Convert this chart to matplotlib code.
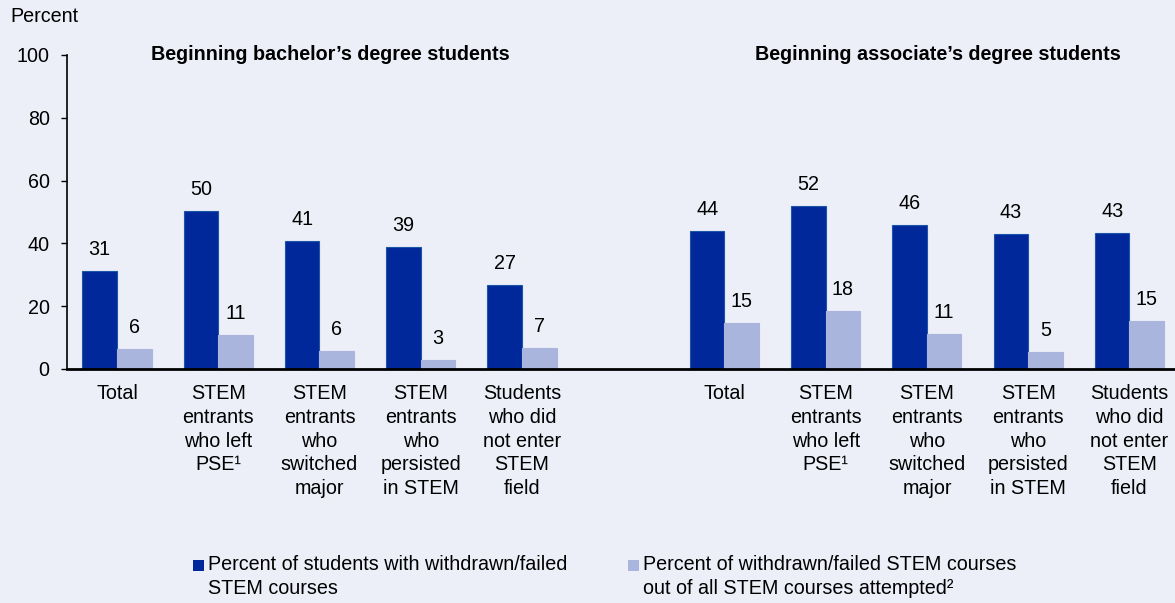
import numpy as np
import matplotlib
matplotlib.use("Agg")
import matplotlib.pyplot as plt
from matplotlib.patches import Rectangle

plt.rcParams['font.family'] = ['Liberation Sans', 'DejaVu Sans']

# ---------
# DATA
# ---------
categories = ["Total",
              "STEM\nentrants\nwho left\nPSE\u00b9",
              "STEM\nentrants\nwho\nswitched\nmajor",
              "STEM\nentrants\nwho\npersisted\nin STEM",
              "Students\nwho did\nnot enter\nSTEM\nfield"]
groups = ["Beginning bachelor\u2019s degree students",
          "Beginning associate\u2019s degree students"]

# percent of students with withdrawn/failed STEM courses
bach_students = [31.2, 50.4, 40.8, 38.9, 26.8]
assoc_students = [44.0, 52.0, 46.0, 42.9, 43.3]
# percent of withdrawn/failed STEM courses out of all attempted
bach_courses = [6.4, 10.8, 5.6, 2.8, 6.8]
assoc_courses = [14.6, 18.4, 11.1, 5.4, 15.3]

legend_labels = ["Percent of students with withdrawn/failed\nSTEM courses",
                 "Percent of withdrawn/failed STEM courses\nout of all STEM courses attempted\u00b2"]

dark = "#00289a"
light = "#a9b5dd"
bg = "#eceff8"
fs = 14.2
ls = 1.31

fig = plt.figure(figsize=(11.75, 6.03), dpi=100, facecolor=bg)
ax = fig.add_axes([67 / 1175, (603 - 369) / 603, 1 - 67 / 1175, (369 - 55) / 603])
ax.set_facecolor(bg)

x = np.concatenate([np.arange(5), np.arange(5) + 6])
students = bach_students + assoc_students
courses = bach_courses + assoc_courses
w = 0.341

b1 = ax.bar(x - w / 2, students, w, color=dark, edgecolor="#1c55a8", linewidth=0.8)
b2 = ax.bar(x + w / 2, courses, w, color=light, edgecolor=light, linewidth=0.8)

for bars, vals in [(b1, students), (b2, courses)]:
    for r, v in zip(bars, vals):
        ax.annotate(f"{round(v)}", (r.get_x() + r.get_width() / 2, v),
                    xytext=(0, 15.5), textcoords="offset points",
                    ha="center", va="center", fontsize=fs)

ax.set_xlim(-0.494, 10.45)
ax.set_ylim(0, 100)
ax.set_yticks(range(0, 101, 20))
ax.tick_params(axis="y", length=4.5, width=1, pad=8, labelsize=fs)
ax.set_xticks(x)
ax.set_xticklabels(categories * 2, fontsize=fs, linespacing=ls)
ax.tick_params(axis="x", length=0, pad=11)

for s in ["top", "right"]:
    ax.spines[s].set_visible(False)
ax.spines["left"].set_linewidth(1.2)
ax.spines["bottom"].set_linewidth(2)

for gx, g in zip([2.11, 8.11], groups):
    ax.text(gx, 100.3, g, ha="center", va="center", fontsize=fs,
            fontweight="bold", clip_on=False)

fig.text(10 / 1175, 1 - 17 / 603, "Percent", ha="left", va="center", fontsize=fs)

# legend drawn by hand
for px, col, lab in [(193, dark, legend_labels[0]), (628, light, legend_labels[1])]:
    fig.patches.append(Rectangle((px / 1175, 1 - 571 / 603), 11 / 1175, 11 / 603,
                                 transform=fig.transFigure, facecolor=col,
                                 edgecolor="none"))
    fig.text((px + 15) / 1175, 1 - 576.5 / 603, lab, ha="left", va="center",
             fontsize=fs, linespacing=ls)

fig.savefig("out.png", dpi=100, facecolor=bg)
